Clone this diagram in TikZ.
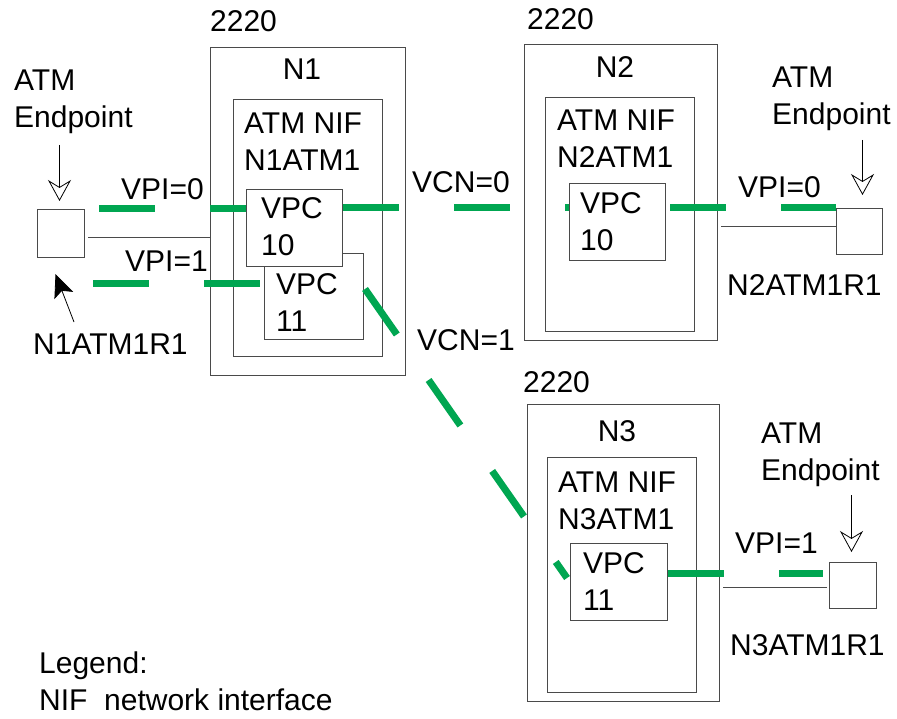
\documentclass[tikz,border=0pt]{standalone}
\usepackage{fontspec}
\setmainfont{Liberation Sans}
\usetikzlibrary{arrows.meta}
\definecolor{vcgreen}{HTML}{00A651}
\definecolor{boxgray}{HTML}{4A4A4A}

\begin{document}
\begin{tikzpicture}[x=1pt,y=-1pt,
  box/.style={draw=boxgray,line width=1pt,fill=white,inner sep=0pt,anchor=north west},
  txt/.style={anchor=base west,inner sep=0pt,font=\fontsize{30}{37}\selectfont},
  ltxt/.style={txt,anchor=north west,align=left},
  vc/.style={vcgreen,line width=7pt,dash pattern=on 55.5pt off 55.5pt},
  wire/.style={boxgray,line width=1pt},
  ptr/.style={black,line width=0.8pt,-{Stealth[open,length=21pt,width=23pt,inset=7pt]}}]
  \useasboundingbox (0,0) rectangle (897,719);

  % node N1
  \node[box,minimum width=195,minimum height=328] (n1) at (210,47) {};
  \node[box,minimum width=149,minimum height=257] (nif1) at (233,99) {};
  \node[box,minimum width=99,minimum height=86] (vpc1b) at (264,253) {};
  \node[box,minimum width=96,minimum height=77] (vpc1a) at (246,189) {};
  \node[txt] (n1num) at (210,32) {2220};
  \node[txt,anchor=base] (n1name) at (302,80) {N1};
  \node[ltxt] (nif1lab) at (244,113) {ATM NIF\\N1ATM1};
  \node[ltxt] (vpc1alab) at (261,197) {VPC\\10};
  \node[ltxt] (vpc1blab) at (276,273) {VPC\\11};

  % node N2
  \node[box,minimum width=193,minimum height=296] (n2) at (524,44) {};
  \node[box,minimum width=149,minimum height=234] (nif2) at (545,97) {};
  \node[box,minimum width=96,minimum height=77] (vpc2) at (569,183) {};
  \node[txt] (n2num) at (527,30) {2220};
  \node[txt,anchor=base] (n2name) at (615,78) {N2};
  \node[ltxt] (nif2lab) at (557,110) {ATM NIF\\N2ATM1};
  \node[ltxt] (vpc2lab) at (580,192) {VPC\\10};

  % node N3
  \node[box,minimum width=192,minimum height=297] (n3) at (527,404) {};
  \node[box,minimum width=149,minimum height=235] (nif3) at (547,457) {};
  \node[box,minimum width=97,minimum height=77] (vpc3) at (570,543) {};
  \node[txt] (n3num) at (523,392) {2220};
  \node[txt,anchor=base] (n3name) at (617,441) {N3};
  \node[ltxt] (nif3lab) at (558,472) {ATM NIF\\N3ATM1};
  \node[ltxt] (vpc3lab) at (583,552) {VPC\\11};

  % endpoints
  \node[box,minimum width=47,minimum height=48] (ep1) at (37,209) {};
  \node[box,minimum width=46,minimum height=46] (ep2) at (836,208) {};
  \node[box,minimum width=47,minimum height=46] (ep3) at (829,562) {};
  \node[ltxt] (ep1lab) at (14,70) {ATM\\Endpoint};
  \node[ltxt] (ep2lab) at (772,67) {ATM\\Endpoint};
  \node[ltxt] (ep3lab) at (761,423) {ATM\\Endpoint};
  \node[txt] (r1lab) at (33,355) {N1ATM1R1};
  \node[txt] (r2lab) at (727,296) {N2ATM1R1};
  \node[txt] (r3lab) at (730,655) {N3ATM1R1};

  % VPI / VCN labels
  \node[txt] (vpi0a) at (121,200) {VPI=0};
  \node[txt] (vpi1a) at (125,272) {VPI=1};
  \node[txt] (vcn0) at (412,193) {VCN=0};
  \node[txt] (vcn1) at (417,350) {VCN=1};
  \node[txt] (vpi0b) at (738,198) {VPI=0};
  \node[txt] (vpi1b) at (735,553) {VPI=1};

  % legend
  \node[txt] (leg1) at (39,673) {Legend:};
  \node[txt] (leg2) at (39,710) {NIF\ \ network interface};

  % physical links
  \draw[wire] ([xshift=3pt,yshift=-4pt]ep1.east) -- ([yshift=-4pt]ep1.east -| n1.west);
  \draw[wire] ([yshift=5pt]ep2.west) -- ([xshift=3pt,yshift=5pt]ep2.west -| n2.east);
  \draw[wire] ([xshift=-2pt,yshift=-2pt]ep3.west) -- ([xshift=3pt,yshift=-2pt]ep3.west -| n3.east);

  % virtual paths
  \coordinate (v1) at (93,284);
  \coordinate (d1) at (365,289);
  \coordinate (d2) at (567,578);
  \coordinate (v3) at (823,573);
  \draw[vc] ([xshift=14pt]ep1.north east) -- (ep1.north east -| vpc1a.west);
  \draw[vc] (vpc1a.east |- ep2.north) -- (vpc2.west |- ep2.north);
  \draw[vc] ([xshift=4pt]vpc2.east |- ep2.north) -- (ep2.north west);
  \draw[vc] (v1) -- (v1 -| vpc1b.west);
  \draw[vc] (d1) -- (d2);
  \draw[vc] (vpc3.east |- v3) -- (v3);

  % pointers
  \draw[ptr] ([xshift=-1.5pt,yshift=64pt]ep1.north) -- ([xshift=-1.5pt,yshift=8pt]ep1.north);
  \draw[ptr] ([xshift=3pt,yshift=68pt]ep2.north) -- ([xshift=3pt,yshift=13pt]ep2.north);
  \draw[ptr] ([xshift=-1.5pt,yshift=67pt]ep3.north) -- ([xshift=-1.5pt,yshift=10pt]ep3.north);
  \coordinate (r1) at (74,322);
  \draw[black,line width=0.8pt,-{Stealth[length=23pt,width=20pt,inset=5pt]}] (r1) -- ([xshift=-5.5pt,yshift=-16pt]ep1.south);
\end{tikzpicture}
\end{document}
